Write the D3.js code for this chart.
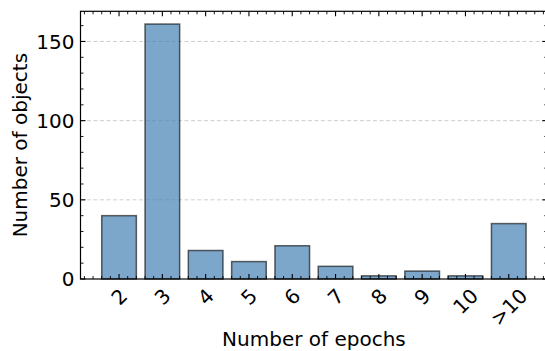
<!DOCTYPE html>
<html><head><meta charset="utf-8">
<script src="https://cdn.jsdelivr.net/npm/d3@7"></script>
<style>body{margin:0;background:#fff}svg{display:block}text{font-family:"DejaVu Sans",sans-serif;fill:#000}</style>
</head><body><svg id="c" width="545" height="351"></svg>
<script>
const categories = ["2","3","4","5","6","7","8","9","10",">10"];
const positions = [2,3,4,5,6,7,8,9,10,11];
const counts = [40,161,18,11,21,8,2,5,2,35];
const yMajorTicks = [0,50,100,150];
const xLabel = "Number of epochs";
const yLabel = "Number of objects";

const svg = d3.select("#c");
const L = 80.5, T = 11.3, B = 279, R = 547.3;
const x = d3.scaleLinear().domain([1.11, 11.89]).range([L, R]);
const y = d3.scaleLinear().domain([0, 169.05]).range([B, T]);
const bw = 0.8;

// grid
svg.append("g").selectAll("line").data(yMajorTicks.filter(d=>d>0)).join("line")
  .attr("x1", L).attr("x2", R).attr("y1", d=>y(d)).attr("y2", d=>y(d))
  .attr("stroke", "#cfcfcf").attr("stroke-width", 1).attr("stroke-dasharray", "4,2.5");

// bars
svg.append("g").selectAll("rect").data(counts).join("rect")
  .attr("x", (d,i)=>x(positions[i]-bw/2)).attr("width", (d,i)=>x(positions[i]+bw/2)-x(positions[i]-bw/2))
  .attr("y", d=>y(d)).attr("height", d=>B-y(d))
  .attr("fill", "steelblue").attr("fill-opacity", 0.7)
  .attr("stroke", "#000").attr("stroke-opacity", 0.6).attr("stroke-width", 1.5);

// ticks
const tg = svg.append("g").attr("stroke", "#000");
const xMinor = d3.range(1.2, 11.89, 0.2).filter(v => Math.abs(v - Math.round(v)) > 0.01);
const xMajor = positions;
const yMinor = d3.range(10, 169, 10).filter(v => v % 50 !== 0);
function hticks(vals, len, w){
  vals.forEach(v=>{
    tg.append("line").attr("x1", x(v)).attr("x2", x(v)).attr("y1", B).attr("y2", B-len).attr("stroke-width", w);
    tg.append("line").attr("x1", x(v)).attr("x2", x(v)).attr("y1", T).attr("y2", T+len).attr("stroke-width", w);
  });
}
function vticks(vals, len, w){
  vals.forEach(v=>{
    tg.append("line").attr("y1", y(v)).attr("y2", y(v)).attr("x1", L).attr("x2", L+len).attr("stroke-width", w);
    tg.append("line").attr("y1", y(v)).attr("y2", y(v)).attr("x1", R).attr("x2", R-len).attr("stroke-width", w);
  });
}
hticks(xMinor, 3, 0.9); hticks(xMajor, 5, 1.1);
vticks(yMinor, 3, 0.9); vticks(yMajorTicks, 5, 1.1);

// spines
svg.append("rect").attr("x", L).attr("y", T).attr("width", R-L).attr("height", B-T)
  .attr("fill", "none").attr("stroke", "#000").attr("stroke-width", 1.2);

// y tick labels
svg.append("g").selectAll("text").data(yMajorTicks).join("text")
  .attr("x", L-6).attr("y", d=>y(d)).attr("dy", "0.36em").attr("text-anchor", "end")
  .attr("font-size", 20).text(d=>d);

// x tick labels rotated 45
const fs = 20;
const xl = svg.append("g");
categories.forEach((c,i)=>{
  const t = xl.append("text").attr("font-size", fs).attr("text-anchor","middle").attr("dy","0.36em").text(c);
  const w = t.node().getComputedTextLength();
  const h = fs*1.15;
  const cy = B + 5 + (w + h)/(2*Math.SQRT2);
  const cx = x(positions[i]);
  t.attr("transform", `translate(${cx},${cy}) rotate(-45)`);
});

// axis labels
svg.append("text").attr("x", (L+R)/2).attr("y", 346).attr("text-anchor","middle").attr("font-size", 20).text(xLabel);
svg.append("text").attr("transform", `translate(27,${(T+B)/2}) rotate(-90)`).attr("text-anchor","middle").attr("font-size", 20).text(yLabel);
</script></body></html>
